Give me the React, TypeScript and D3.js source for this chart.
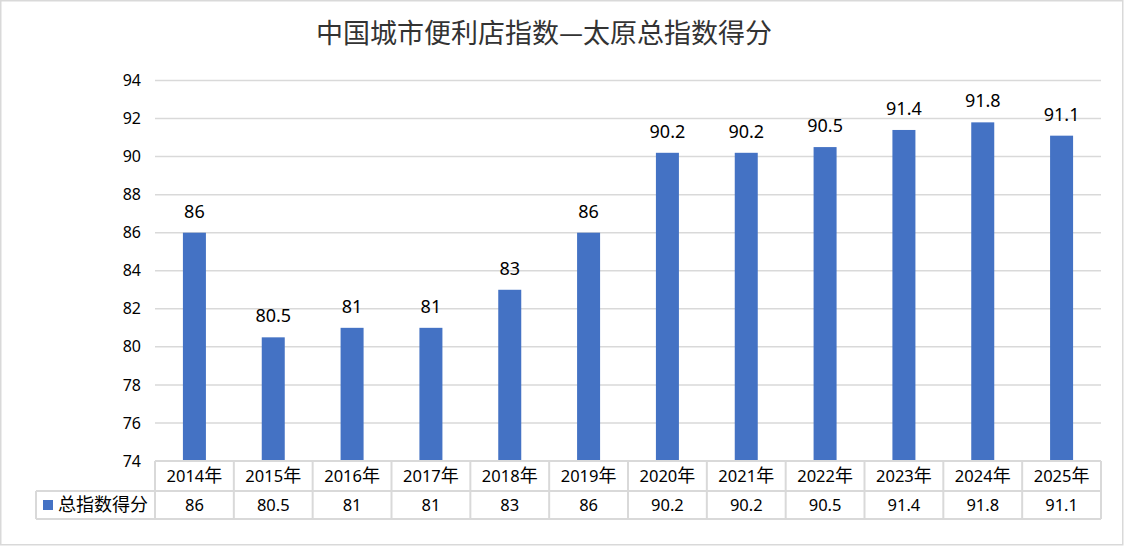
import { useEffect, useRef } from 'react'
import * as d3 from 'd3'

const years = ['2014', '2015', '2016', '2017', '2018', '2019', '2020', '2021', '2022', '2023', '2024', '2025']
const yearSuffix = '年'
const scores = [86, 80.5, 81, 81, 83, 86, 90.2, 90.2, 90.5, 91.4, 91.8, 91.1]
const yTicks = [74, 76, 78, 80, 82, 84, 86, 88, 90, 92, 94]
const seriesName = '总指数得分'
const title = '中国城市便利店指数—太原总指数得分'

const W = 1125
const H = 546
const FONT = "'Noto Sans', 'Noto Sans CJK SC', sans-serif"
const CJK = "'Noto Sans CJK SC', sans-serif"

export default function App() {
  const svgRef = useRef<SVGSVGElement>(null)

  useEffect(() => {
    if (!svgRef.current) return
    const svg = d3.select(svgRef.current)
    svg.selectAll('*').remove()

    const left = 155
    const right = 1101
    const top = 80.5
    const bottom = 461
    const row1 = 491
    const row2 = 519
    const legendLeft = 36

    // outer frame
    svg.append('rect')
      .attr('x', 0.75).attr('y', 0.75)
      .attr('width', 1122).attr('height', 544)
      .attr('fill', '#fff')
      .attr('stroke', '#d9d9d9')
      .attr('stroke-width', 1.5)

    svg.append('text')
      .attr('x', 544).attr('y', 43)
      .attr('text-anchor', 'middle')
      .attr('font-family', CJK)
      .attr('font-size', 27)
      .attr('fill', '#333')
      .text(title)

    const x = d3.scaleBand().domain(years).range([left, right])
    const y = d3.scaleLinear().domain([74, 94]).range([bottom, top])
    const cx = (i: number) => x(years[i])! + x.bandwidth() / 2

    // gridlines
    svg.append('g')
      .selectAll('line')
      .data(yTicks.filter(t => t !== 74))
      .join('line')
      .attr('x1', left).attr('x2', right)
      .attr('y1', d => y(d)).attr('y2', d => y(d))
      .attr('stroke', '#d9d9d9')
      .attr('stroke-width', 1.5)

    // y tick labels
    svg.append('g')
      .selectAll('text')
      .data(yTicks)
      .join('text')
      .attr('x', 141)
      .attr('y', d => y(d))
      .attr('dy', '0.35em')
      .attr('text-anchor', 'end')
      .attr('font-family', FONT)
      .attr('font-size', 16)
      .attr('fill', '#000')
      .text(d => d)

    // bars
    const barW = 23
    svg.append('g')
      .selectAll('rect')
      .data(scores)
      .join('rect')
      .attr('x', (d, i) => cx(i) - barW / 2)
      .attr('y', d => y(d))
      .attr('width', barW)
      .attr('height', d => bottom - y(d))
      .attr('fill', '#4472c4')

    // data labels
    svg.append('g')
      .selectAll('text')
      .data(scores)
      .join('text')
      .attr('x', (d, i) => cx(i))
      .attr('y', d => y(d) - 15)
      .attr('text-anchor', 'middle')
      .attr('font-family', FONT)
      .attr('font-size', 18)
      .attr('fill', '#000')
      .text(d => d)

    // data table
    const grid = svg.append('g')
      .attr('stroke', '#d9d9d9')
      .attr('stroke-width', 2)
      .attr('fill', 'none')
    grid.append('line').attr('x1', left).attr('x2', right).attr('y1', bottom).attr('y2', bottom)
    grid.append('line').attr('x1', legendLeft).attr('x2', right).attr('y1', row1).attr('y2', row1)
    grid.append('line').attr('x1', legendLeft).attr('x2', right).attr('y1', row2).attr('y2', row2)
    grid.append('line').attr('x1', legendLeft).attr('x2', legendLeft).attr('y1', row1).attr('y2', row2)
    grid.selectAll('line.v')
      .data([...years.map(c => x(c)!), right])
      .join('line')
      .attr('class', 'v')
      .attr('x1', d => d).attr('x2', d => d)
      .attr('y1', bottom).attr('y2', row2)

    const cat = svg.append('g')
      .selectAll('text')
      .data(years)
      .join('text')
      .attr('x', (d, i) => cx(i))
      .attr('y', (bottom + row1) / 2)
      .attr('dy', '0.36em')
      .attr('text-anchor', 'middle')
      .attr('font-family', FONT)
      .attr('font-size', 16.5)
      .attr('fill', '#000')
    cat.append('tspan').text(d => d)
    cat.append('tspan').attr('font-family', CJK).attr('font-size', 18).text(yearSuffix)

    svg.append('g')
      .selectAll('text')
      .data(scores)
      .join('text')
      .attr('x', (d, i) => cx(i))
      .attr('y', (row1 + row2) / 2)
      .attr('dy', '0.36em')
      .attr('text-anchor', 'middle')
      .attr('font-family', FONT)
      .attr('font-size', 16.5)
      .attr('fill', '#000')
      .text(d => d)

    // legend key in table
    svg.append('rect')
      .attr('x', 43).attr('y', 500)
      .attr('width', 10).attr('height', 10)
      .attr('fill', '#4472c4')
    svg.append('text')
      .attr('x', 58)
      .attr('y', (row1 + row2) / 2)
      .attr('dy', '0.36em')
      .attr('font-family', CJK)
      .attr('font-size', 18)
      .attr('fill', '#000')
      .text(seriesName)
  }, [])

  return (
    <svg
      ref={svgRef}
      width={W}
      height={H}
      style={{ position: 'absolute', left: 0, top: 0, background: '#fff' }}
    />
  )
}
